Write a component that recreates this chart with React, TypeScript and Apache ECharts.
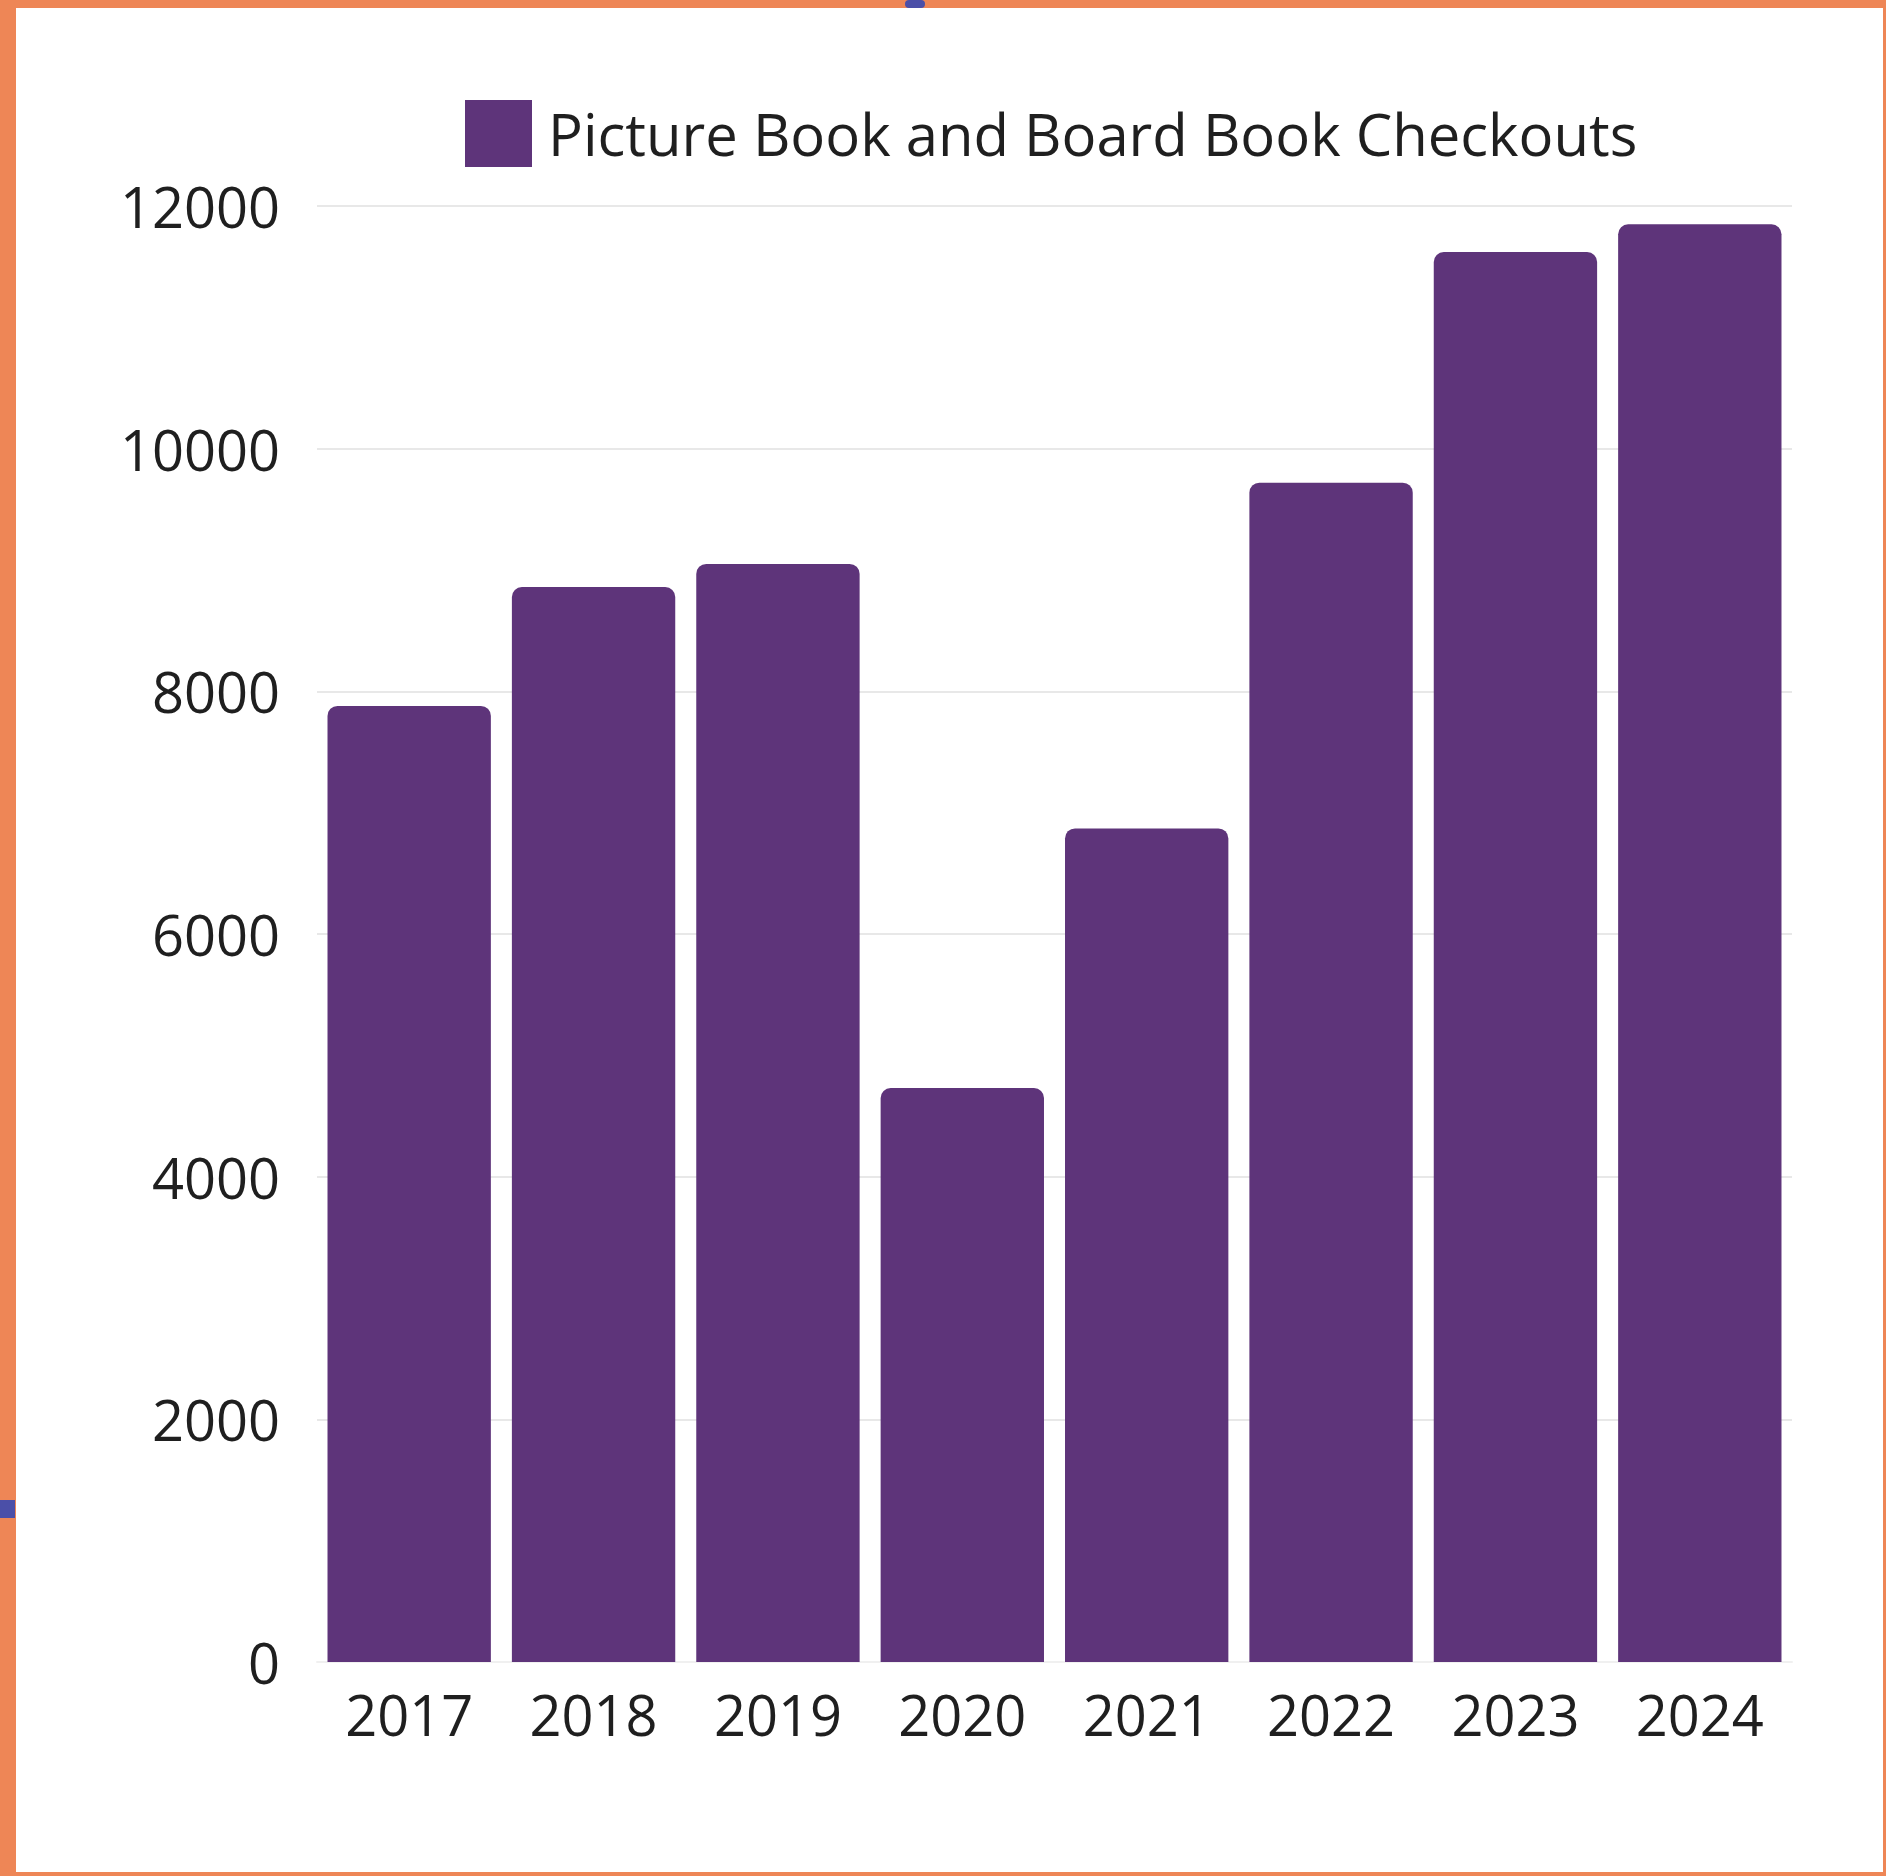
import React, { useEffect, useRef } from "react";
import * as echarts from "echarts";

const categories = ["2017", "2018", "2019", "2020", "2021", "2022", "2023", "2024"];
const checkouts = [7880, 8860, 9050, 4730, 6870, 9720, 11620, 11850];
const seriesName = "Picture Book and Board Book Checkouts";
const yMin = 0;
const yMax = 12000;
const yInterval = 2000;

const FONT = "'Open Sans', 'Noto Sans', sans-serif";
const PURPLE = "#5E347A";
const TEXT = "#1f1f1f";

export default function App() {
  const ref = useRef<HTMLDivElement>(null);

  useEffect(() => {
    if (!ref.current) return;
    const chart = echarts.init(ref.current, undefined, { renderer: "svg" });
    chart.setOption({
      animation: false,
      backgroundColor: "transparent",
      textStyle: { fontFamily: FONT },
      legend: {
        show: true,
        left: 460,
        top: 95,
        itemWidth: 67,
        itemHeight: 67,
        itemGap: 20,
        icon: "rect",
        textStyle: { fontSize: 58, color: TEXT, fontFamily: FONT, padding: [0, 0, 0, 11] },
        data: [seriesName],
      },
      grid: { left: 317, top: 206, width: 1475, height: 1456, containLabel: false },
      xAxis: {
        type: "category",
        data: categories,
        axisLine: { show: true, lineStyle: { color: "#f0f0f0", width: 2 } },
        axisTick: { show: false },
        axisLabel: { fontSize: 56, color: TEXT, margin: 24, fontFamily: FONT },
      },
      yAxis: {
        type: "value",
        min: yMin,
        max: yMax,
        interval: yInterval,
        axisLine: { show: false },
        axisTick: { show: false },
        splitLine: { lineStyle: { color: "#e8e8e8", width: 2 } },
        axisLabel: {
          fontSize: 56,
          color: TEXT,
          margin: 37,
          fontFamily: FONT,
          formatter: (v: number) => String(v),
        },
      },
      series: [
        {
          name: seriesName,
          type: "bar",
          data: checkouts,
          barCategoryGap: "11.4%",
          itemStyle: { color: PURPLE, borderRadius: [10, 10, 0, 0] },
        },
      ],
    });
    return () => chart.dispose();
  }, []);

  return (
    <div style={{ position: "fixed", left: 0, top: 0, width: 1886, height: 1876, background: "#EE8656", overflow: "hidden" }}>
      <div style={{ position: "absolute", left: 16, top: 8, width: 1867, height: 1864, background: "#ffffff" }} />
      <div style={{ position: "absolute", left: 905, top: 0, width: 20, height: 8, background: "#4B4FA8", borderRadius: 4 }} />
      <div style={{ position: "absolute", left: 0, top: 1500, width: 15, height: 18, background: "#4B4FA8" }} />
      <div ref={ref} style={{ position: "absolute", left: 0, top: 0, width: 1886, height: 1876 }} />
    </div>
  );
}
